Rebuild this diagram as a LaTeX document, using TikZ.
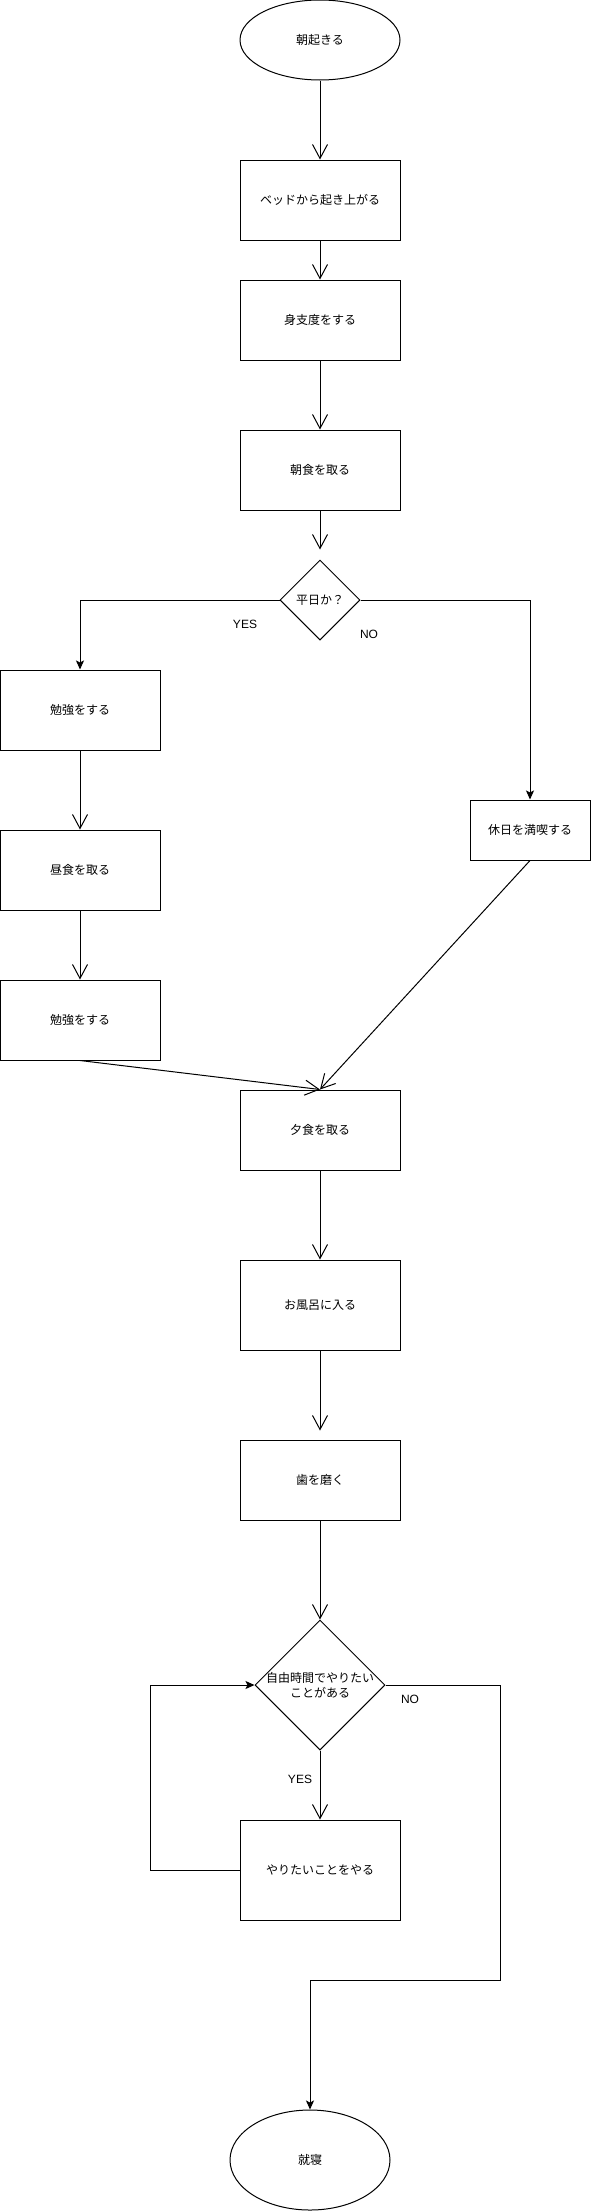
\documentclass[tikz,border=0pt]{standalone}
\usepackage{fontspec}
\setmainfont{Noto Sans CJK JP}
\newfontfamily\yesnofont{Liberation Sans}
\usetikzlibrary{shapes.geometric, arrows.meta}

\begin{document}
\begin{tikzpicture}[
    x = 1pt, y = -1pt,
    line width = 1pt,
    every node/.style = {font = \fontsize{12}{15}\selectfont},
    terminal/.style = {draw, ellipse, minimum width = 160pt, minimum height = 80pt, inner sep = 0pt},
    process/.style = {draw, rectangle, minimum width = 160pt, minimum height = 80pt, inner sep = 0pt},
    decision/.style = {draw, diamond, aspect = 1, minimum size = 80pt, inner sep = 0pt, align = center},
    answer/.style = {font = \fontsize{12}{15}\yesnofont},
    flow/.style = {-{Straight Barb[length = 14pt, width = 15pt]}},
    branch/.style = {-{Stealth[length = 9pt, width = 8pt, inset = 2pt]}}
]
\useasboundingbox (0,0) rectangle (591,2211);

\node [terminal] (wake) at (320,40) {朝起きる};
\node [process] (bed) at (320,200) {ベッドから起き上がる};
\node [process] (dress) at (320,320) {身支度をする};
\node [process] (breakfast) at (320,470) {朝食を取る};
\node [decision] (weekday) at (320,600) {平日か？};
\node [process] (study1) at (80,710) {勉強をする};
\node [process] (lunch) at (80,870) {昼食を取る};
\node [process] (study2) at (80,1020) {勉強をする};
\node [process, minimum width = 120pt, minimum height = 60pt] (holiday) at (530,830) {休日を満喫する};
\node [process] (dinner) at (320,1130) {夕食を取る};
\node [process, minimum height = 90pt] (bath) at (320,1305) {お風呂に入る};
\node [process] (teeth) at (320,1480) {歯を磨く};
\node [decision, minimum size = 130pt, inner sep = -3pt] (free) at (320,1685) {自由時間でやりたい\\ことがある};
\node [process, minimum height = 100pt] (hobby) at (320,1870) {やりたいことをやる};
\node [terminal, minimum height = 100pt] (sleep) at (310,2160) {就寝};

\node [answer] (yes1) at (245,624) {YES};
\node [answer] (no1) at (369,634) {NO};
\node [answer] (yes2) at (300,1779) {YES};
\node [answer] (no2) at (410,1699) {NO};

\coordinate (loopx) at (150,1870);
\coordinate (nox) at (500,1980);

\draw [flow] (wake) -- (bed);
\draw [flow] (bed) -- (dress);
\draw [flow] (dress) -- (breakfast);
\draw [flow, shorten > = 10pt] (breakfast) -- (weekday);
\draw [branch] (weekday.west) -| (study1.north);
\draw [branch] (weekday.east) -| (holiday.north);
\draw [flow] (study1) -- (lunch);
\draw [flow] (lunch) -- (study2);
\draw [flow] (study2.south) -- (dinner.north);
\draw [flow] (holiday.south) -- (dinner.north);
\draw [flow] (dinner) -- (bath);
\draw [flow, shorten > = 9pt] (bath) -- (teeth);
\draw [flow] (teeth) -- (free);
\draw [flow] (free) -- (hobby);
\draw [branch] (hobby.west) -- (loopx) |- (free.west);
\draw [branch] (free.east) -| (nox) -| (sleep.north);

%\node {休日}
\end{tikzpicture}
\end{document}
